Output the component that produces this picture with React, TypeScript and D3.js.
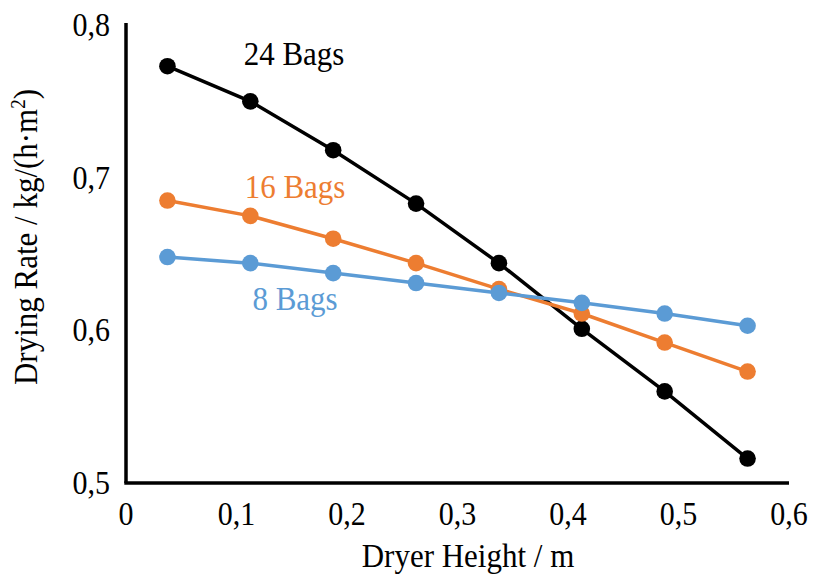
import * as d3 from "d3";

const heights = [0.0375, 0.1125, 0.1875, 0.2625, 0.3375, 0.4125, 0.4875, 0.5625];
const bags24 = [0.773, 0.75, 0.718, 0.683, 0.644, 0.601, 0.56, 0.516];
const bags16 = [0.685, 0.675, 0.66, 0.644, 0.627, 0.611, 0.592, 0.573];
const bags8 = [0.648, 0.644, 0.6375, 0.631, 0.6245, 0.618, 0.611, 0.603];
const xTicks = [0, 0.1, 0.2, 0.3, 0.4, 0.5, 0.6];
const yTicks = [0.5, 0.6, 0.7, 0.8];

const series = [
  { name: "24 Bags", values: bags24, color: "#000000", lx: 294, ly: 65 },
  { name: "16 Bags", values: bags16, color: "#ED7D31", lx: 295, ly: 198 },
  { name: "8 Bags", values: bags8, color: "#5B9BD5", lx: 295, ly: 310 },
];

const fmt = (v: number) => (v === 0 ? "0" : v.toFixed(1).replace(".", ","));

// text is a little taller than wide in the source image
const stretch = (x: number, y: number) => `translate(${x},${y}) scale(1,1.1)`;

export default function App() {
  const width = 813;
  const height = 574;
  const x = d3.scaleLinear().domain([0, 0.6]).range([126, 789]);
  const y = d3.scaleLinear().domain([0.5, 0.8]).range([483, 25]);
  const line = d3
    .line<number>()
    .x((_, i) => x(heights[i]))
    .y((d) => y(d));
  const fs = 30;

  return (
    <svg
      width={width}
      height={height}
      style={{
        position: "absolute",
        left: 0,
        top: 0,
        background: "#fff",
        fontFamily: "Liberation Serif, DejaVu Serif, serif",
      }}
    >
      {/* axes */}
      <line x1={x(0)} x2={x(0)} y1={y(0.8) - 2} y2={y(0.5)} stroke="#000" strokeWidth={3.5} />
      <line x1={x(0) - 1.7} x2={x(0.6)} y1={y(0.5)} y2={y(0.5)} stroke="#000" strokeWidth={3.5} />

      {yTicks.map((t) => (
        <text key={t} transform={stretch(110, y(t) + 11)} textAnchor="end" fontSize={fs}>
          {fmt(t)}
        </text>
      ))}
      {xTicks.map((t) => (
        <text key={t} transform={stretch(x(t), 525)} textAnchor="middle" fontSize={fs}>
          {fmt(t)}
        </text>
      ))}

      <text transform={stretch(468, 567)} textAnchor="middle" fontSize={31}>
        Dryer Height / m
      </text>
      <text transform="translate(37,237) scale(1.1,1) rotate(-90)" textAnchor="middle" fontSize={31}>
        Drying Rate / kg/(h·m<tspan baselineShift="super" fontSize={19}>2</tspan>)
      </text>

      {series.map((s) => (
        <g key={s.name}>
          <path d={line(s.values) ?? ""} fill="none" stroke={s.color} strokeWidth={3.5} />
          {s.values.map((v, i) => (
            <circle key={i} cx={x(heights[i])} cy={y(v)} r={8.3} fill={s.color} />
          ))}
          <text transform={stretch(s.lx, s.ly)} textAnchor="middle" fontSize={31} fill={s.color}>
            {s.name}
          </text>
        </g>
      ))}
    </svg>
  );
}
